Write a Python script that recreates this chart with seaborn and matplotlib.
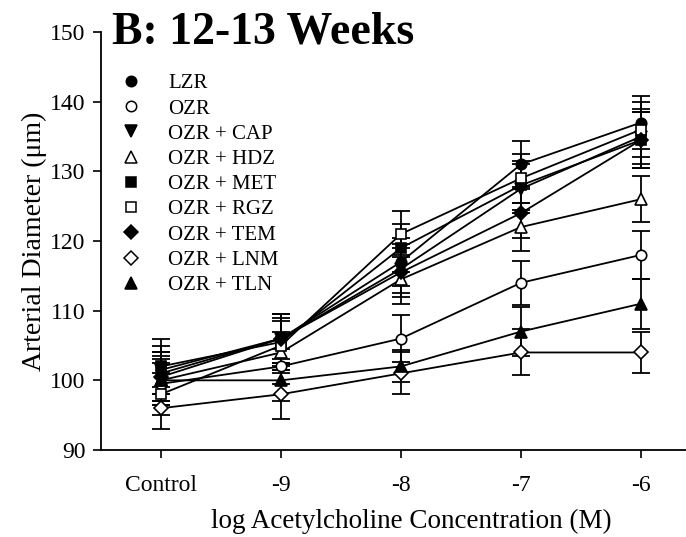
import matplotlib
matplotlib.use("Agg")
import matplotlib.pyplot as plt
from matplotlib.lines import Line2D
import seaborn as sns
import numpy as np

categories = ["Control", "-9", "-8", "-7", "-6"]
series_names = ["LZR", "OZR", "OZR + CAP", "OZR + HDZ", "OZR + MET",
                "OZR + RGZ", "OZR + TEM", "OZR + LNM", "OZR + TLN"]

lzr = [101, 106, 117, 131, 137]
ozr = [99.5, 102, 106, 114, 118]
cap = [101.5, 106, 116, 127.5, 135]
hdz = [100, 104, 114.5, 122, 126]
met = [102, 105.5, 119, 128, 134.5]
rgz = [98, 105, 121, 129, 136]
tem = [100.5, 106, 115.5, 124, 134.5]
lnm = [96, 98, 101, 104, 104]
tln = [100, 100, 102, 107, 111]

lzr_err = [3, 3.5, 3.5, 3.3, 3.8]
ozr_err = [3, 2.5, 3.4, 3.2, 3.5]
cap_err = [3.5, 3.5, 3.5, 3.5, 4]
hdz_err = [3, 3, 3.5, 3.5, 3.3]
met_err = [4, 3.5, 3.5, 3.5, 4]
rgz_err = [3, 3.5, 3.3, 3.5, 4]
tem_err = [3.5, 3.5, 3.5, 3.5, 4]
lnm_err = [3, 3.5, 3, 3.3, 3]
tln_err = [3.5, 3, 2.3, 3.5, 3.6]

values = [lzr, ozr, cap, hdz, met, rgz, tem, lnm, tln]
errors = [lzr_err, ozr_err, cap_err, hdz_err, met_err, rgz_err, tem_err, lnm_err, tln_err]
markers = ["o", "o", "v", "^", "s", "s", "D", "D", "^"]
filled = [True, False, True, False, True, False, True, False, True]

sns.set_style("ticks")
plt.rcParams["font.family"] = ["Liberation Serif", "DejaVu Serif"]
plt.rcParams["text.color"] = "black"
plt.rcParams["axes.labelcolor"] = "black"

fig = plt.figure(figsize=(6.86, 5.37), dpi=100)
# axis runs past the right edge of the image, as in the reference
ax = fig.add_axes([101 / 686, 87 / 537, 620 / 686, 418 / 537])

xpos = np.arange(len(categories))
handles = []
for name, vals, errs, m, f in zip(series_names, values, errors, markers, filled):
    ms = 7.5 if m in ("o", "s") else (7 if m == "D" else 8)
    ax.errorbar(xpos, vals, yerr=errs, fmt="none", ecolor="black",
                elinewidth=1.3, capsize=6.5, capthick=1.3, zorder=2)
    sns.lineplot(x=xpos, y=vals, ax=ax, color="black", linewidth=1.3,
                 marker=m, markersize=ms,
                 markerfacecolor="black" if f else "white",
                 markeredgecolor="black", markeredgewidth=1.2,
                 legend=False, zorder=3)
    handles.append(Line2D([], [], linestyle="none", marker=m, markersize=ms,
                          markerfacecolor="black" if f else "white",
                          markeredgecolor="black", markeredgewidth=1.1))

ax.set_xlim(-0.5, 4.667)
ax.set_ylim(90, 150)
ax.set_xticks(xpos)
ax.set_xticklabels(categories)
ax.set_yticks(np.arange(90, 151, 10))
ax.tick_params(axis="both", labelsize=17, length=6, width=1.2, direction="out",
               colors="black")
ax.tick_params(axis="x", pad=12)
ax.tick_params(axis="y", pad=5)
for s in ["top", "right"]:
    ax.spines[s].set_visible(False)
for s in ["left", "bottom"]:
    ax.spines[s].set_linewidth(1.3)
    ax.spines[s].set_color("black")

ax.set_xlabel("log Acetylcholine Concentration (M)", fontsize=19.5, labelpad=9)
ax.set_ylabel("Arterial Diameter (μm)", fontsize=20, labelpad=2)

leg = ax.legend(handles, series_names, loc="upper left",
                bbox_to_anchor=(0.0185, 0.92), frameon=False, fontsize=15,
                handlelength=1.0, handletextpad=1.26, labelspacing=0.27,
                borderaxespad=0)

fig.text(112 / 686, 1 - 43 / 537, "B: 12-13 Weeks", fontsize=33,
         fontweight="bold", ha="left", va="baseline")

fig.savefig("out.png", dpi=100)
